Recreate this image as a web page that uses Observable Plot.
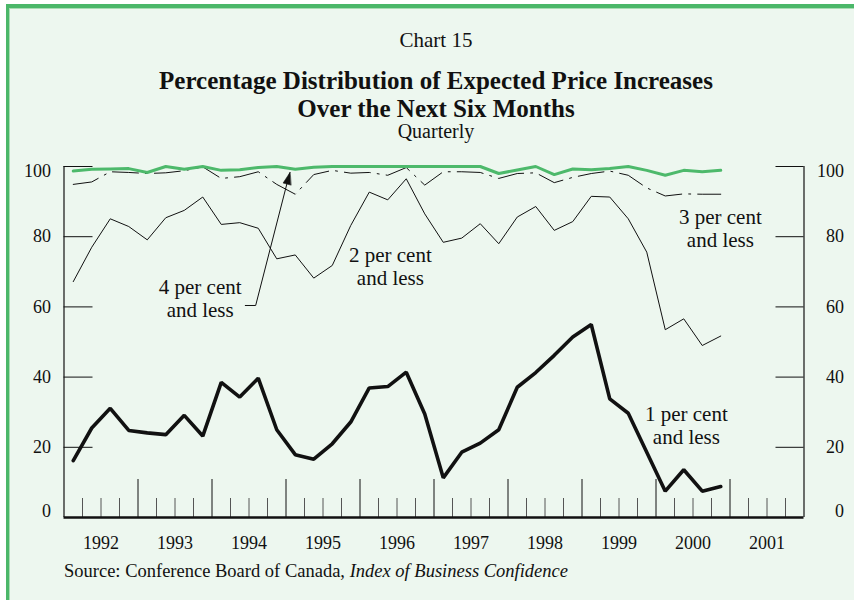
<!DOCTYPE html>
<html>
<head>
<meta charset="utf-8">
<script src="https://cdn.jsdelivr.net/npm/d3@7"></script>
<script src="https://cdn.jsdelivr.net/npm/@observablehq/plot@0.6"></script>
<style>
html, body { margin: 0; padding: 0; width: 854px; height: 600px; overflow: hidden; background: #ffffff;
  font-family: "Liberation Serif", "Times New Roman", serif; color: #111; }
#panel { position: absolute; left: 6px; top: 4px; width: 848px; height: 596px; box-sizing: border-box;
  background: #EDF7EF; border-left: 3px solid #4BB769; border-top: 4px solid #4BB769;
  box-shadow: inset 1px 1px 0 #a8dcb3; }
.t { position: absolute; left: 0; width: 872px; text-align: center; white-space: nowrap; }
#chart { position: absolute; left: 0; top: 150px; }
#source { position: absolute; left: 64px; top: 562px; font-size: 18.5px; line-height: 18.5px; white-space: nowrap; }
</style>
</head>
<body>
<div id="panel"></div>
<div class="t" style="top:29.5px;font-size:21px;line-height:21px;">Chart 15</div>
<div class="t" style="top:67px;font-size:25px;line-height:27.8px;font-weight:bold;">Percentage Distribution of Expected Price Increases<br>Over the Next Six Months</div>
<div class="t" style="top:121px;font-size:20px;line-height:20px;">Quarterly</div>
<div id="chart"></div>
<div id="source">Source: Conference Board of Canada, <i>Index of Business Confidence</i></div>
<script>
// ---- data ----
const years = [1992, 1993, 1994, 1995, 1996, 1997, 1998, 1999, 2000, 2001];
const dataYears = [1992, 1993, 1994, 1995, 1996, 1997, 1998, 1999, 2000];
const quarterNames = ["Q1", "Q2", "Q3", "Q4"];
const yTicks = [0, 20, 40, 60, 80, 100];

const onePct   = [16.2, 25.5, 31.1, 24.8, 24.1, 23.6, 29.1, 23.2, 38.5, 34.3, 39.7, 25.0,
                  17.9, 16.6, 21.0, 27.2, 36.9, 37.3, 41.4, 29.5, 11.3, 18.6, 21.2, 25.0,
                  37.1, 41.3, 46.2, 51.4, 55.0, 33.8, 29.7, 18.6, 7.5, 13.6, 7.5, 8.8];
const twoPct   = [67.2, 77.0, 85.1, 82.9, 79.1, 85.4, 87.5, 91.3, 83.5, 84.0, 82.4, 73.7,
                  74.8, 68.2, 71.8, 83.2, 92.7, 90.5, 96.5, 86.5, 78.4, 79.6, 83.7, 78.0,
                  85.6, 88.6, 81.8, 84.3, 91.5, 91.3, 85.1, 75.6, 53.5, 56.6, 49.0, 51.7];
const threePct = [94.9, 95.6, 98.5, 98.3, 98.0, 98.2, 98.8, 99.9, 96.6, 97.1, 98.5, 94.9,
                  92.1, 97.7, 98.9, 98.1, 98.3, 97.5, 99.7, 94.7, 98.5, 98.5, 98.3, 96.6,
                  98.0, 98.2, 95.4, 96.9, 98.0, 98.7, 97.5, 93.9, 91.6, 92.2, 92.1, 92.1];
const fourPct  = [98.7, 99.2, 99.3, 99.4, 98.3, 100.0, 99.2, 100.0, 98.9, 99.1, 99.7, 100.0,
                  99.2, 99.8, 100.0, 100.0, 100.0, 100.0, 100.0, 100.0, 100.0, 100.0, 100.0, 98.0,
                  99.0, 100.0, 97.7, 99.3, 99.1, 99.4, 100.0, 98.9, 97.5, 98.9, 98.5, 98.9];

const seriesNames = ["1 per cent\nand less", "2 per cent\nand less", "3 per cent\nand less", "4 per cent\nand less"];

// ---- derived tables ----
const quarters = dataYears.flatMap(y => quarterNames.map((q, k) => ({label: `${y}${q}`, t: y + (k + 0.5) / 4})));
const rows = (vals, s) => vals.map((v, i) => ({t: quarters[i].t, v, s}));
const minorTicks = years.flatMap(y => [y + 0.25, y + 0.5, y + 0.75]);
const yearBounds = years.slice(1);

// label placement (data coordinates)
const labelPos = [
  {text: seriesNames[0], t: 2000.41, v: 26.3},
  {text: seriesNames[1], t: 1996.41, v: 71.6},
  {text: seriesNames[2], t: 2000.87, v: 82.4},
  {text: seriesNames[3], t: 1993.84, v: 62.4}
];
const leader = [{t: 1994.45, v: 60.4}, {t: 1994.59, v: 60.4}, {t: 1995.05, v: 98.2}];
const arrowTip = [{t: 1995.054, v: 98.3}];

// ---- layout ----
const W = 854, H = 410, ML = 63.5, MR = 50.5, MT = 16, MB = 43;
const plotW = W - ML - MR, plotH = H - MT - MB;
const ink = "#111";

const chart = Plot.plot({
  width: W, height: H,
  marginLeft: ML, marginRight: MR, marginTop: MT, marginBottom: MB,
  style: {background: "transparent", fontFamily: "'Liberation Serif', 'Times New Roman', serif", fontSize: "18px", color: ink, overflow: "visible"},
  x: {domain: [1992, 2002], axis: null},
  y: {domain: [0, 100], axis: null},
  marks: [
    Plot.ruleY(yTicks.slice(1), {insetRight: plotW - 29, stroke: ink, strokeWidth: 1}),
    Plot.ruleY(yTicks.slice(1), {insetLeft: plotW - 28, stroke: ink, strokeWidth: 1}),
    Plot.ruleX(minorTicks, {insetTop: plotH - 19, stroke: "#555", strokeWidth: 1}),
    Plot.ruleX(yearBounds, {insetTop: plotH - 38, stroke: ink, strokeWidth: 1}),
    Plot.ruleX([1992, 2002], {stroke: ink, strokeWidth: 1.2}),
    Plot.ruleY([0], {stroke: ink, strokeWidth: 2.6}),

    // y labels
    Plot.text(yTicks.filter(d => d > 0 && d < 100), {y: d => d, text: d => String(d), frameAnchor: "left", dx: -13, textAnchor: "end"}),
    Plot.text([0], {y: d => d, text: d => String(d), frameAnchor: "left", dx: -13, dy: -6, textAnchor: "end"}),
    Plot.text([100], {y: d => d, text: d => String(d), frameAnchor: "left", dx: -13, dy: 5, textAnchor: "end"}),
    Plot.text(yTicks.filter(d => d > 0 && d < 100), {y: d => d, text: d => String(d), frameAnchor: "right", dx: 40, textAnchor: "end"}),
    Plot.text([0], {y: d => d, text: d => String(d), frameAnchor: "right", dx: 40, dy: -6, textAnchor: "end"}),
    Plot.text([100], {y: d => d, text: d => String(d), frameAnchor: "right", dx: 40, dy: 5, textAnchor: "end"}),
    // year labels
    Plot.text(years, {x: d => d + 0.5, text: d => String(d), frameAnchor: "bottom", lineAnchor: "middle", dy: 26}),

    // series
    Plot.line(rows(threePct, "3"), {x: "t", y: "v", stroke: ink, strokeWidth: 1, strokeDasharray: "26,7,2,7", strokeLinejoin: "miter"}),
    Plot.line(rows(twoPct, "2"), {x: "t", y: "v", stroke: ink, strokeWidth: 1, strokeLinejoin: "miter"}),
    Plot.line(rows(onePct, "1"), {x: "t", y: "v", stroke: ink, strokeWidth: 3.6, strokeLinejoin: "miter"}),
    Plot.line(rows(fourPct, "4"), {x: "t", y: "v", stroke: "#4DB96B", strokeWidth: 3, strokeLinejoin: "miter"}),

    // annotations
    Plot.text(labelPos, {x: "t", y: "v", text: "text", fontSize: 21, lineHeight: 1.07, lineAnchor: "middle", fill: ink}),
    Plot.line(leader, {x: "t", y: "v", stroke: ink, strokeWidth: 1}),
    Plot.vector(arrowTip, {x: "t", y: "v", rotate: 14.7, length: 12, r: 4, anchor: "end", fill: ink, stroke: ink, strokeWidth: 0.5,
      shape: {draw(context, l, r) { context.moveTo(0, -l); context.lineTo(-r, 0); context.lineTo(r, 0); context.closePath(); }}})
  ]
});
document.getElementById("chart").appendChild(chart);
</script>
</body>
</html>
